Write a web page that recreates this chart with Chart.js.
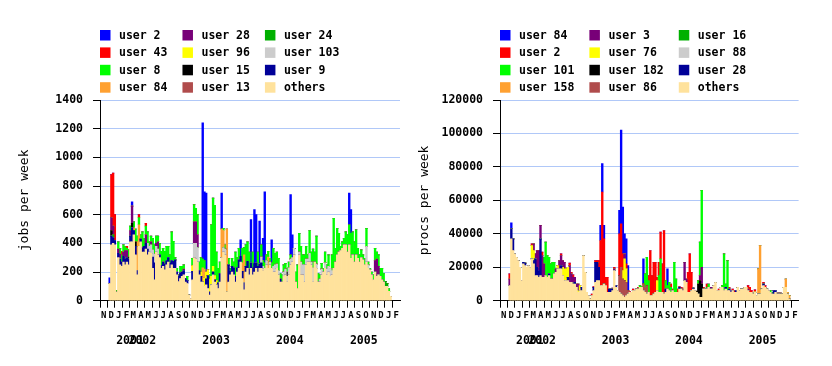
<!DOCTYPE html>
<html>
<head>
<meta charset="utf-8">
<script src="https://cdn.jsdelivr.net/npm/chart.js@4/dist/chart.umd.min.js"></script>
<style>
  body { margin: 0; background: #fff; width: 832px; height: 366px; position: relative; overflow: hidden; }
  #jobs { position: absolute; left: 0; top: 0; }
  #procs { position: absolute; left: 400px; top: 0; }
</style>
</head>
<body>
<canvas id="jobs" width="416" height="366"></canvas>
<canvas id="procs" width="400" height="366"></canvas>
<script>
// weekly samples, first week starts 25 Nov 2001
const weekCount = 164;
const monthLetters = ["N","D","J","F","M","A","M","J","J","A","S","O","N","D","J","F","M","A","M","J",
                      "J","A","S","O","N","D","J","F","M","A","M","J","J","A","S","O","N","D","J","F"];
const yearLabels = ["2001", "2002", "2003", "2004", "2005"];

// ---- jobs per week ----
const othersJobs = [
  120,390,400,390,60,300,250,240,270,250,
  270,250,410,410,460,320,180,380,410,340,
  340,360,320,340,330,225,145,340,320,300,
  225,240,215,250,270,225,250,225,225,180,
  133,155,170,180,130,120,40,15,145,300,
  290,270,180,130,130,100,110,85,40,110,
  180,130,110,85,130,300,340,320,60,130,
  180,200,180,130,200,225,270,155,75,200,
  225,180,225,180,200,225,200,225,225,210,
  225,250,225,250,225,200,200,225,180,130,
  130,170,180,130,180,250,270,320,130,85,
  320,180,180,130,250,270,270,250,130,270,
  225,130,130,180,200,225,180,200,170,180,
  225,270,320,340,350,365,390,390,340,390,
  295,320,270,320,295,270,300,285,250,270,
  225,215,180,145,200,170,180,170,145,130,
  100,100,65,30
];
const user9Jobs = [
  0,60,40,30,0,30,40,30,40,40,
  30,40,40,100,30,60,30,0,20,30,
  40,40,40,0,0,80,120,0,0,20,
  20,30,40,30,30,40,30,50,60,20,
  40,40,30,30,25,20,0,0,60,0,
  0,0,30,40,0,0,40,90,20,0,
  20,15,0,40,60,0,0,0,0,120,
  25,40,50,40,30,60,40,50,50,40,
  50,40,40,50,60,40,40,30,40,0,
  0,0,0,0,0,0,0,0,0,20
];
const user8Jobs = [
  0,0,0,0,10,50,40,50,50,25,
  15,50,30,0,40,90,40,50,30,110,
  55,60,80,30,40,80,65,50,40,80,
  100,95,90,100,80,55,200,140,15,25,
  7,45,40,30,0,30,0,0,50,120,
  95,140,60,100,60,60,0,0,30,360,
  475,490,200,100,80,0,15,30,0,45,
  20,55,40,170,70,80,0,100,50,150,
  135,120,0,110,0,0,100,0,85,40,
  40,40,40,25,40,125,80,85,85,40,
  50,50,40,25,40,30,0,0,70,165,
  130,110,70,70,90,30,160,70,130,70,
  195,60,30,40,25,75,30,80,0,110,
  350,95,185,130,30,45,45,90,120,140,
  175,160,140,175,70,50,55,35,45,125,
  20,10,20,35,85,50,80,55,80,60,
  0,0,20,0
];
// sparse series: [week, value]
const user103Jobs = [[22,40],[23,40],[24,60],[25,50],[26,60],[27,40],[28,40],[49,100],[50,110],[51,100],
  [66,30],[67,40],[88,40],[89,30],[91,30],[93,20],[95,40],[96,50],[97,30],[98,30],[101,30],[102,40],
  [103,40],[104,50],[105,40],[106,30],[107,45],[110,20],[111,90],[112,70],[113,120],[114,40],[115,20],
  [116,60],[117,20],[118,100],[120,30],[122,20],[123,40],[125,40],[126,40],[127,40],[128,55],[129,30],
  [149,110],[150,25]];
const user2Jobs = [[0,40],[13,30],[54,950],[55,480],[56,550],[65,250],[76,115],[82,300],[84,375],[85,335],
  [87,300],[89,155],[90,495],[94,160],[105,420],[106,160],[139,220],[140,165]];
const user43Jobs = [[1,300],[2,370],[3,180],[7,25],[10,15],[17,20],[21,20]];
const user28Jobs = [[1,90],[2,60],[5,30],[6,35],[8,30],[9,60],[10,50],[12,40],[13,120],[21,60],[24,20],
  [27,20],[28,50],[43,10],[49,150],[50,150],[51,90],[154,80],[155,120],[156,60]];
const user84Jobs = [[14,20],[16,200],[17,150],[54,100],[55,60],[65,200],[66,120],[68,440],[77,60],[78,195],[92,80]];
const user96Jobs = [[48,40],[53,30],[55,60],[56,50],[57,40],[58,90],[59,60],[60,40],[61,30],[62,30]];
const user15Jobs = [[1,40],[11,15],[13,30],[15,30],[103,30]];
const user13Jobs = [];
const user24Jobs = [[2,20],[160,35],[161,20]];

// ---- procs per week ----
const othersProcs = [
  9000,37000,30000,28000,26000,24000,20000,12000,22000,21000,
  20000,21000,19800,25000,22000,15000,15000,14000,15000,14000,
  14000,15000,14000,15000,13000,13000,16000,17000,19000,19000,
  19000,15000,12000,12000,12000,11000,11000,10000,10000,8000,
  5000,6000,6000,27000,17000,5000,3000,1000,3000,6000,
  11000,12000,12000,9000,9000,10000,9000,5000,5000,5000,
  6000,18000,8000,6000,5000,4000,3000,2000,3000,4000,
  5000,5000,6000,6000,7000,7000,8000,8000,6000,5000,
  4000,5000,3000,3000,4000,5000,6000,5000,5000,5000,
  4000,5000,7000,6000,5000,6000,5000,5000,5000,7000,
  7000,6000,12000,11000,5000,5000,6000,7000,6000,5000,
  4000,2000,2000,7000,7000,7000,8000,7000,7000,9000,
  11000,6000,6000,8000,8000,6000,7000,6000,6000,5000,
  6000,5000,5000,8000,6000,7000,7000,8000,8000,6000,
  5000,5000,4000,5000,3000,4000,4000,7000,9000,8000,
  7000,6000,5000,4000,4000,5000,4000,4000,4000,4000,
  8000,8000,4000,1000
];
const user84Procs = [[1,3500],[53,9000],[54,17000],[55,8000],[64,14000],[65,56000],[66,28000],[67,12000],
  [68,15000],[69,15000],[78,15000],[92,10000]];
const user2Procs = [[0,3000],[13,1000],[19,2000],[30,1000],[35,1500],[36,1000],[37,1500],[48,1000],[49,500],
  [50,1000],[51,1000],[52,4000],[53,27000],[54,56000],[55,27000],[56,5000],[57,9000],[60,500],[61,1000],
  [64,25000],[65,26000],[66,10000],[68,3000],[70,500],[72,1000],[75,1000],[81,3000],[82,27000],[83,12000],
  [84,19000],[85,18000],[86,2000],[87,8000],[88,16000],[89,17000],[90,38000],[94,2000],[95,1000],[98,2000],
  [99,500],[100,1000],[101,500],[104,12000],[105,23000],[106,11000],[113,1000],[115,2000],[122,1000],
  [128,1000],[130,1000],[131,1000],[139,2000],[140,3000],[141,1000],[143,1000],[148,1000],[149,1000]];
const user101Procs = [[20,4000],[21,20000],[22,13000],[23,10000],[24,9000],[25,10000],[26,7000],[76,1000],
  [77,500],[79,8000],[80,17000],[81,7000],[87,10000],[88,20000],[91,5000],[92,2000],[93,5000],[94,3000],
  [96,18000],[97,8000],[110,2000],[111,20000],[112,46000],[115,1000],[116,2000],[124,1000],[125,22000],
  [126,2000],[127,18000],[152,1000],[153,1000]];
const user158Procs = [[143,500],[145,15000],[146,29000],[161,5000],[162,1000],[163,2000]];
const user3Procs = [[0,4000],[14,4000],[15,3000],[16,10000],[17,12000],[18,8000],[19,13000],[20,8000],
  [27,2000],[29,5000],[30,6000],[31,4000],[32,4000],[35,10000],[36,5000],[37,4000],[38,3000],[39,2000],
  [40,4000],[61,1000],[67,3000],[101,1000],[102,11000],[103,2000],[111,3000],[112,10000],[117,1000],
  [118,1000],[139,1000],[156,500],[157,500],[158,500]];
const user76Procs = [[13,8000],[14,6000],[28,2000],[31,5000],[32,7000],[33,7000],[34,6000],[40,1000],
  [41,3000],[66,5000],[67,13000],[68,8000],[86,6000]];
const user182Procs = [[109,500],[110,6000],[111,10000],[112,8000]];
const user86Procs = [[64,10000],[65,16000],[66,10000],[67,10000],[68,8000],[69,2000],[78,4000],[79,3000],[80,5000]];
const user16Procs = [];
const user88Procs = [];
const user28Procs = [[1,6000],[2,7000],[8,1000],[9,1500],[14,2000],[15,10000],[16,5000],[17,4000],[18,22000],
  [23,1000],[30,2000],[34,2000],[38,1000],[42,2000],[49,2000],[50,12000],[51,11000],[52,8000],[58,2000],
  [59,2000],[60,1000],[62,1000],[91,2000],[99,1000],[107,500],[126,1000],[128,1000],[129,1000],[132,1000],
  [148,1000],[154,2000],[155,1000]];

// legend order (column by column); stacked bottom-up in reverse
const palette = ["#0000ff", "#ff0000", "#00ff00", "#ffa030", "#780078", "#ffff00",
                 "#000000", "#b04c4c", "#00b000", "#cccccc", "#000098", "#ffe29c"];

const FONT = '"DejaVu Sans Mono", monospace';
Chart.defaults.font.family = FONT;
Chart.defaults.color = "#000";

const dayMs = 86400000;
const axisStart = Date.UTC(2001, 10, 1);
const firstWeek = (Date.UTC(2001, 10, 25) - axisStart) / dayMs;
const weekDays = Array.from({ length: weekCount }, (_, i) => firstWeek + 7 * i);
const monthStarts = monthLetters.map((_, i) => (Date.UTC(2001, 10 + i, 1) - axisStart) / dayMs);
const yearStarts = [0, 2, 14, 26, 38].map(i => monthStarts[i]);
const axisEnd = monthStarts[monthStarts.length - 1];

function expand(values) {
  const full = new Array(weekCount).fill(0);
  if (values.length && Array.isArray(values[0])) {
    values.forEach(([w, v]) => { full[w] = v; });
  } else {
    values.forEach((v, i) => { full[i] = v; });
  }
  return full;
}

const gridLegend = {
  id: "gridLegend",
  afterDraw(chart) {
    const ctx = chart.ctx;
    const items = chart.data.datasets.slice().reverse();
    ctx.save();
    ctx.font = "bold 11.5px " + FONT;
    ctx.textBaseline = "middle";
    let x = 100;
    for (let c = 0; c < 3; c++) {
      let w = 0;
      items.slice(c * 4, c * 4 + 4).forEach((ds, r) => {
        const y = 30 + r * 17.4;
        ctx.fillStyle = ds.backgroundColor;
        ctx.fillRect(x, y, 10.5, 10.5);
        ctx.fillStyle = "#000";
        ctx.fillText(ds.label, x + 19, y + 6);
        w = Math.max(w, ctx.measureText(ds.label).width);
      });
      x += 19 + w + 15;
    }
    ctx.restore();
  }
};

function makeChart(id, series, yMax, yStep, title, padRight) {
  const datasets = series.map(([label, values], k) => ({
    label,
    data: expand(values).map((v, i) => ({ x: weekDays[i], y: v })),
    backgroundColor: palette[k],
    borderWidth: 0,
    barPercentage: 1,
    categoryPercentage: 1
  })).reverse();

  return new Chart(document.getElementById(id), {
    type: "bar",
    data: { datasets },
    plugins: [gridLegend],
    options: {
      responsive: false,
      animation: false,
      events: [],
      layout: { padding: { top: 100, right: padRight, bottom: 0, left: 0 } },
      plugins: { legend: { display: false }, tooltip: { enabled: false } },
      scales: {
        x: {
          type: "linear", min: 0, max: axisEnd, stacked: true, weight: 0,
          grid: { drawOnChartArea: false, color: "#000", tickLength: 7 },
          border: { color: "#000" },
          afterBuildTicks: s => { s.ticks = monthStarts.map(v => ({ value: v })); },
          afterFit: s => { s.height = 22; },
          ticks: {
            autoSkip: false, maxRotation: 0, padding: 2.4, color: "#000",
            font: { size: 9, weight: "bold" },
            callback: (v, i) => monthLetters[i]
          }
        },
        yr: {
          type: "linear", position: "bottom", min: 0, max: axisEnd, weight: 1,
          grid: { display: false, drawTicks: false },
          border: { display: false },
          afterBuildTicks: s => { s.ticks = yearStarts.map(v => ({ value: v })); },
          afterFit: s => { s.height = 366 - 300.7 - 22; },
          ticks: {
            autoSkip: false, maxRotation: 0, padding: 11.4, color: "#000",
            font: { size: 11.5, weight: "bold" },
            callback: (v, i) => yearLabels[i]
          }
        },
        y: {
          stacked: true, min: 0, max: yMax,
          grid: { color: "#b0c8f8", tickColor: "#000", tickLength: 7 },
          border: { color: "#000" },
          afterFit: s => { s.width = 100; },
          ticks: {
            stepSize: yStep, padding: 10, color: "#000",
            font: { size: 11.5, weight: "bold" },
            callback: v => String(v)
          },
          title: { display: true, text: title, color: "#000", font: { size: 13 }, padding: { top: 17, bottom: 0 } }
        }
      }
    }
  });
}

makeChart("jobs", [
  ["user 2", user2Jobs], ["user 43", user43Jobs], ["user 8", user8Jobs], ["user 84", user84Jobs],
  ["user 28", user28Jobs], ["user 96", user96Jobs], ["user 15", user15Jobs], ["user 13", user13Jobs],
  ["user 24", user24Jobs], ["user 103", user103Jobs], ["user 9", user9Jobs], ["others", othersJobs]
], 1400, 200, "jobs per week", 16);

makeChart("procs", [
  ["user 84", user84Procs], ["user 2", user2Procs], ["user 101", user101Procs], ["user 158", user158Procs],
  ["user 3", user3Procs], ["user 76", user76Procs], ["user 182", user182Procs], ["user 86", user86Procs],
  ["user 16", user16Procs], ["user 88", user88Procs], ["user 28", user28Procs], ["others", othersProcs]
], 120000, 20000, "procs per week", 0);
</script>
</body>
</html>
